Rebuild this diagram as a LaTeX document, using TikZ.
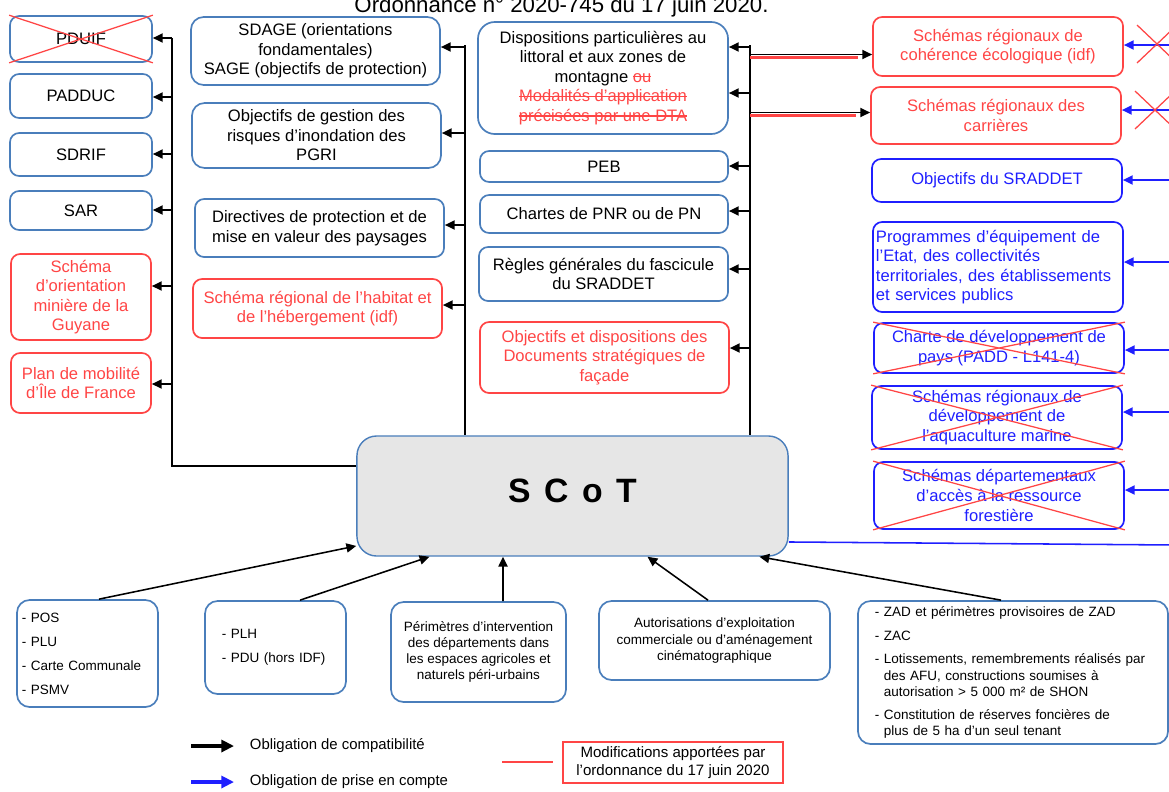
\documentclass[tikz,border=0pt]{standalone}
\usepackage{fontspec}
\setmainfont{Liberation Sans}
\usetikzlibrary{arrows.meta,calc}
\definecolor{bordbleu}{HTML}{4A7EBB}
\definecolor{modrouge}{HTML}{FF4545}
\definecolor{pcbleu}{HTML}{1F1FFF}
\definecolor{scotgris}{HTML}{E6E6E6}
\newcommand{\txtn}{\fontsize{11.8}{13.9}\selectfont}
\newcommand{\txtp}{\fontsize{9.6}{11.4}\selectfont}
\newlength{\barlen}
\newcommand{\barrer}[1]{\settowidth{\barlen}{#1}\rlap{\rule[0.3em]{\barlen}{0.07em}}#1}
\tikzset{
	doc/.style={draw=bordbleu, line width=1.2pt, rounded corners=6.5pt, align=center, inner sep=2pt, font=\txtn},
	docr/.style={doc, draw=modrouge, text=modrouge},
	docb/.style={doc, draw=pcbleu, text=pcbleu},
	docp/.style={doc, rounded corners=9pt, font=\txtp},
	lien/.style={line width=1.1pt},
	fl/.style={lien, -{Triangle[length=7pt,width=6.5pt]}},
	flb/.style={fl, pcbleu},
	leg/.style={line width=3pt, -{Triangle[length=9pt,width=8.5pt]}},
	barre/.style={draw=modrouge, line width=0.9pt},
}

\begin{document}
\begin{tikzpicture}[x=0.025cm, y=-0.025cm]
		\useasboundingbox (0,0) rectangle (1169,791);

		\node[anchor=base, font=\fontsize{15.8}{18}\selectfont] (titre) at (561.5,12) {Ordonnance n° 2020-745 du 17 juin 2020.};

		\node[doc, minimum width=3.55cm, minimum height=1.15cm] (pduif) at (81,39) {PDUIF};
		\node[doc, minimum width=3.55cm, minimum height=1.1cm] (padduc) at (81,96) {PADDUC};
		\node[doc, minimum width=3.55cm, minimum height=1.075cm] (sdrif) at (81,154.5) {SDRIF};
		\node[doc, minimum width=3.55cm, minimum height=0.975cm] (sar) at (81,210.5) {SAR};
		\node[docr, minimum width=3.5cm, minimum height=2.15cm] (mine) at (81,297) {Schéma\\d’orientation\\minière de la\\Guyane};
		\node[docr, minimum width=3.5cm, minimum height=1.5cm] (pdm) at (81,383) {Plan de mobilité\\d’Île de France};

		\node[doc, rounded corners=9pt, minimum width=6.225cm, minimum height=1.7cm] (sdage) at (315.5,51) {SDAGE (orientations\\fondamentales)\\SAGE (objectifs de protection)};
		\node[doc, rounded corners=9pt, minimum width=6.225cm, minimum height=1.625cm] (pgri) at (316.5,135.5) {Objectifs de gestion des\\risques d'inondation des\\PGRI};
		\node[doc, align=left, minimum width=6.225cm, minimum height=1.45cm] (paysages) at (319.5,228) {Directives de protection et de\\mise en valeur des paysages};
		\node[docr, minimum width=6.225cm, minimum height=1.475cm] (habitat) at (317.5,308.5) {Schéma régional de l’habitat et\\de l’hébergement (idf)};

		\node[doc, rounded corners=12pt, minimum width=6.25cm, minimum height=2.8cm] (littoral) at (603,78) {Dispositions particulières au\\littoral et aux zones de\\montagne \textcolor{modrouge}{\barrer{ou}}\\\textcolor{modrouge}{\barrer{Modalités d’application}}\\\textcolor{modrouge}{\barrer{précisées par une DTA}}};
		\node[doc, minimum width=6.2cm, minimum height=0.775cm] (peb) at (604,166.5) {PEB};
		\node[doc, minimum width=6.2cm, minimum height=0.95cm] (pnr) at (604,214) {Chartes de PNR ou de PN};
		\node[doc, minimum width=6.225cm, minimum height=1.35cm] (regles) at (603.5,274) {Règles générales du fascicule\\du SRADDET};
		\node[docr, minimum width=6.225cm, minimum height=1.775cm] (dsf) at (604.5,357.5) {Objectifs et dispositions des\\Documents stratégiques de\\façade};

		\node[docr, minimum width=6.25cm, minimum height=1.475cm] (coherence) at (998,46.5) {Schémas régionaux de\\cohérence écologique (idf)};
		\node[docr, minimum width=6.25cm, minimum height=1.425cm] (carrieres) at (996,115.5) {Schémas régionaux des\\carrières};
		\node[docb, minimum width=6.25cm, minimum height=1.075cm] (sraddet) at (997,180.5) {Objectifs du SRADDET};
		\node[docb, text width=6.1cm, align=left, minimum width=6.25cm, minimum height=2.25cm] (programmes) at (998,267) {Programmes d’équipement de\\l’Etat, des collectivités\\territoriales, des établissements\\et services publics};
		\node[docb, minimum width=6.25cm, minimum height=1.25cm] (charte) at (999,348) {Charte de développement de\\pays (PADD - L141-4)};
		\node[docb, minimum width=6.25cm, minimum height=1.575cm] (aquac) at (997,417.5) {Schémas régionaux de\\développement de\\l'aquaculture marine};
		\node[docb, minimum width=6.25cm, minimum height=1.675cm] (forest) at (999,495.5) {Schémas départementaux\\d'accès à la ressource\\forestière};

		\node[doc, line width=1pt, fill=scotgris, rounded corners=14pt, minimum width=10.775cm, minimum height=3cm, text depth=7pt, font=\fontsize{24}{28}\selectfont\bfseries] (scot) at (572.5,496) {S\hspace{0.4em}C\hspace{0.4em}o\hspace{0.4em}T};

		\node[docp, text width=3.275cm, align=left, minimum width=3.525cm, minimum height=2.675cm] (b1) at (87.5,653.5) {- POS\\[5.6pt]- PLU\\[5.6pt]- Carte Communale\\[5.6pt]- PSMV};
		\node[docp, text width=2.675cm, align=left, minimum width=3.525cm, minimum height=2.325cm] (b2) at (275.5,647.5) {- PLH\\[5.6pt]- PDU (hors IDF)};
		\node[docp, minimum width=4.375cm, minimum height=2.5cm] (b3) at (478.5,652) {Périmètres d’intervention\\des départements dans\\les espaces agricoles et\\naturels péri-urbains};
		\node[docp, minimum width=5.775cm, minimum height=1.975cm] (b4) at (714.5,640.5) {Autorisations d’exploitation\\commerciale ou d’aménagement\\cinématographique};
		\node[docp, text width=6.9cm, align=left, minimum width=7.75cm, minimum height=3.575cm] (b5) at (1013,672.5) {- ZAD et périmètres provisoires de ZAD\\[5.6pt]- ZAC\\[5.6pt]- Lotissements, remembrements réalisés par\\\hphantom{- }des AFU, constructions soumises à\\\hphantom{- }autorisation > 5 000 m² de SHON\\[5.6pt]- Constitution de réserves foncières de\\\hphantom{- }plus de 5 ha d’un seul tenant};

		\coordinate (tg) at (172,38);
		\coordinate (tm) at (465,45);
		\coordinate (td) at (750,45);
		\coordinate (bd) at (1175,45);

		\draw[lien] (tg) |- (scot.west |- 0,466);
		\draw[fl] (tg) -- (pduif.east |- tg);
		\draw[fl] (tg |- 0,97) -- (padduc.east |- 0,97);
		\draw[fl] (tg |- 0,154) -- (sdrif.east |- 0,154);
		\draw[fl] (tg |- 0,210) -- (sar.east |- 0,210);
		\draw[fl] (tg |- 0,286) -- (mine.east |- 0,286);
		\draw[fl] (tg |- 0,384) -- (pdm.east |- 0,384);

		\draw[lien] (tm) -- (tm |- scot.north);
		\draw[fl] (tm |- 0,47) -- (sdage.east |- 0,47);
		\draw[fl] (tm |- 0,133) -- (pgri.east |- 0,133);
		\draw[fl] (tm |- 0,225) -- (paysages.east |- 0,225);
		\draw[fl] (tm |- 0,305) -- (habitat.east |- 0,305);

		\draw[lien] (td) -- (td |- scot.north);
		\draw[fl] (td |- 0,47) -- (littoral.east |- 0,47);
		\draw[fl] (td |- 0,93) -- (littoral.east |- 0,93);
		\draw[fl] (td |- 0,166) -- (peb.east |- 0,166);
		\draw[fl] (td |- 0,211) -- (pnr.east |- 0,211);
		\draw[fl] (td |- 0,269) -- (regles.east |- 0,269);
		\draw[fl] (td |- 0,348) -- (dsf.east |- 0,348);

		\draw[lien, modrouge, line width=1.5pt] (td |- 0,57.5) -- ($(coherence.west |- 0,57.5)+(-14,0)$);
		\draw[fl] (td |- 0,54.5) -- (coherence.west |- 0,54.5);
		\draw[lien, modrouge, line width=1.5pt] (td |- 0,115.5) -- ($(carrieres.west |- 0,115.5)+(-14,0)$);
		\draw[fl] (td |- 0,112.5) -- (carrieres.west |- 0,112.5);

		\draw[flb] (bd |- 0,45) -- (coherence.east |- 0,45);
		\draw[flb] (bd |- 0,110) -- (carrieres.east |- 0,110);
		\draw[flb] (bd |- 0,180) -- (sraddet.east |- 0,180);
		\draw[flb] (bd |- 0,262) -- (programmes.east |- 0,262);
		\draw[flb] (bd |- 0,350) -- (charte.east |- 0,350);
		\draw[flb] (bd |- 0,412) -- (aquac.east |- 0,412);
		\draw[flb] (bd |- 0,490) -- (forest.east |- 0,490);
		\draw[lien, pcbleu] (scot.348) -- (bd |- 0,545);

		\draw[barre] (1137,25) -- (1177,63) (1137,63) -- (1177,25);
		\draw[barre] (1135,91) -- (1175,129) (1135,129) -- (1175,91);

		\draw[barre] (pduif.north west) -- (pduif.south east) (pduif.south west) -- (pduif.north east);
		\draw[barre] (charte.north west) -- (charte.south east) (charte.south west) -- (charte.north east);
		\draw[barre] (aquac.north west) -- (aquac.south east) (aquac.south west) -- (aquac.north east);
		\draw[barre] (forest.north west) -- (forest.south east) (forest.south west) -- (forest.north east);

		\draw[fl] ($(b1.north)+(11.5,0)$) -- (scot.193);
		\draw[fl] ($(b2.north)+(24.5,0)$) -- (scot.203);
		\draw[fl] ($(b3.north)+(24.5,0)$) -- (scot.south -| 503,0);
		\draw[fl] ($(b4.north)+(-6.5,0)$) -- (scot.321);
		\draw[fl] ($(b5.north)+(-12,0)$) -- (scot.342);

		\coordinate (lc) at (191,746);
		\coordinate (lp) at (191,782);
		\draw[leg] (lc) -- ++(43,0);
		\draw[leg, pcbleu] (lp) -- ++(43,0);
		\node[anchor=west, font=\fontsize{10.6}{12}\selectfont] (lgc) at (245,746) {Obligation de compatibilité};
		\node[anchor=west, font=\fontsize{10.6}{12}\selectfont] (lgp) at (245,782) {Obligation de prise en compte};
		\draw[modrouge, line width=1.3pt] (502,762) -- (553,762);
		\node[draw=modrouge, line width=1.2pt, align=center, inner sep=2pt, minimum width=5.5cm, minimum height=1.025cm, font=\fontsize{10.7}{12.1}\selectfont] (lgm) at (673,762.5) {Modifications apportées par\\l’ordonnance du 17 juin 2020};
	\end{tikzpicture}
\end{document}
